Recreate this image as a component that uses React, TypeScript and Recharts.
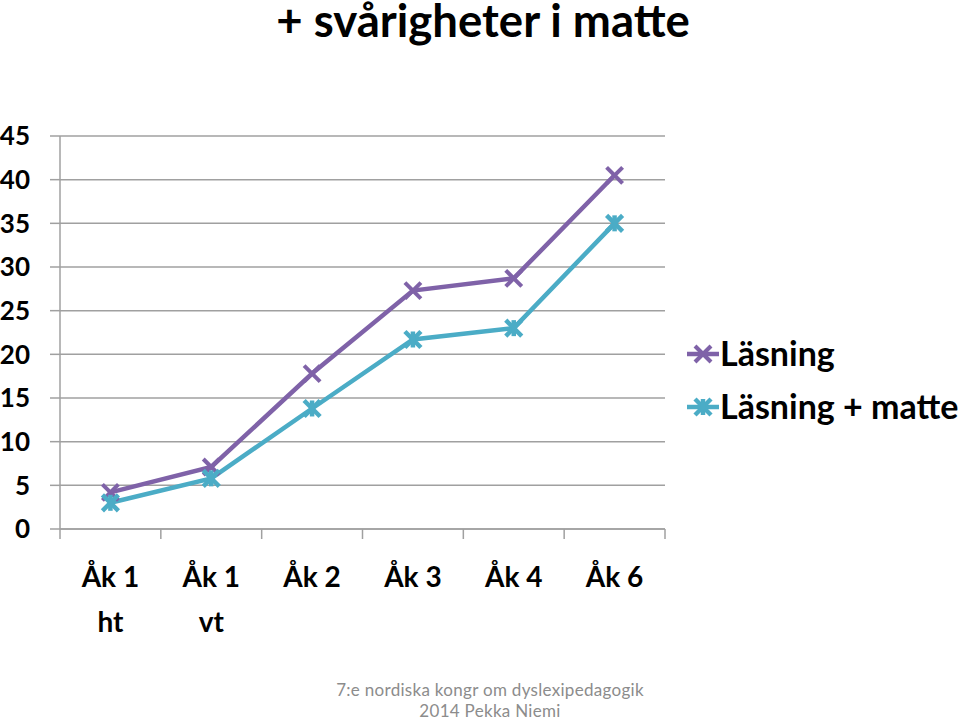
import { LineChart, Line, XAxis, YAxis, CartesianGrid } from "recharts";

const categories = ["Åk 1|ht", "Åk 1|vt", "Åk 2", "Åk 3", "Åk 4", "Åk 6"];
const lasning = [4.2, 7.1, 17.8, 27.3, 28.7, 40.5];
const lasningMatte = [3.0, 5.8, 13.8, 21.7, 23.0, 35.0];
const yTicks = [0, 5, 10, 15, 20, 25, 30, 35, 40, 45];

const seriesNames = ["Läsning", "Läsning + matte"];
const PURPLE = "#7F62A8";
const TEAL = "#4BACC6";

const data = categories.map((c, i) => ({
  cat: c,
  a: lasning[i],
  b: lasningMatte[i],
}));

const W = 960;
const H = 721;
const M = { top: 136, right: 295, bottom: 0, left: 0 };
const Y_W = 60;
const X_H = 192;
const BAND = (W - M.right - Y_W) / categories.length;
const GRID = "#A0A0A0";

const font = "Lato, 'Open Sans', sans-serif";

function XMarker({ cx, cy, color }: any) {
  if (cx == null || cy == null) return null;
  const s = 8;
  return (
    <g stroke={color} strokeWidth={4}>
      <line x1={cx - s} y1={cy - s} x2={cx + s} y2={cy + s} />
      <line x1={cx - s} y1={cy + s} x2={cx + s} y2={cy - s} />
    </g>
  );
}

function StarMarker({ cx, cy, color }: any) {
  if (cx == null || cy == null) return null;
  const s = 8;
  return (
    <g stroke={color} strokeWidth={4.5}>
      <line x1={cx - s} y1={cy - s} x2={cx + s} y2={cy + s} />
      <line x1={cx - s} y1={cy + s} x2={cx + s} y2={cy - s} />
      <line x1={cx} y1={cy - s} x2={cx} y2={cy + s} />
    </g>
  );
}

function CatTick(props: any) {
  const { x, y, payload, index } = props;
  const lines = String(payload.value).split("|");
  return (
    <g>
      <line x1={x - BAND / 2} y1={y} x2={x - BAND / 2} y2={y + 10} stroke={GRID} strokeWidth={1.5} />
      {index === categories.length - 1 && (
        <line x1={x + BAND / 2} y1={y} x2={x + BAND / 2} y2={y + 10} stroke={GRID} strokeWidth={1.5} />
      )}
      {lines.map((t, i) => (
        <text
          key={i}
          x={x}
          y={y + 58 + i * 45}
          textAnchor="middle"
          fontFamily={font}
          fontWeight="bold"
          fontSize={28}
          fill="#000"
        >
          {t}
        </text>
      ))}
    </g>
  );
}

// title, legend and footer drawn on top of the chart
function Overlay() {
  const rows = [
    { name: seriesNames[0], color: PURPLE, Marker: XMarker },
    { name: seriesNames[1], color: TEAL, Marker: StarMarker },
  ];
  return (
    <svg
      width={W}
      height={H}
      style={{ position: "absolute", left: 0, top: 0, pointerEvents: "none" }}
    >
      <text
        x={483}
        y={37}
        textAnchor="middle"
        fontFamily={font}
        fontWeight="bold"
        fontSize={45.5}
        fill="#000"
      >
        + svårigheter i matte
      </text>
      {rows.map((r, i) => {
        const cy = 354 + i * 53;
        return (
          <g key={r.name}>
            <line x1={687} y1={cy} x2={719} y2={cy} stroke={r.color} strokeWidth={4.5} />
            <r.Marker cx={703} cy={cy} color={r.color} />
            <text
              x={720}
              y={cy + 12}
              fontFamily={font}
              fontWeight="bold"
              fontSize={34}
              fill="#000"
            >
              {r.name}
            </text>
          </g>
        );
      })}
      <text x={490} y={696} textAnchor="middle" fontFamily={font} fontSize={17} letterSpacing={0.3} fill="#8C8C8C">
        7:e nordiska kongr om dyslexipedagogik
      </text>
      <text x={490} y={717} textAnchor="middle" fontFamily={font} fontSize={17} letterSpacing={0.3} fill="#8C8C8C">
        2014 Pekka Niemi
      </text>
    </svg>
  );
}

export default function App() {
  return (
    <div
      style={{
        position: "fixed",
        left: 0,
        top: 0,
        width: W,
        height: H,
        background: "#fff",
      }}
    >
      <LineChart width={W} height={H} data={data} margin={M}>
        <CartesianGrid vertical={false} stroke={GRID} strokeWidth={1.5} />
        <XAxis
          dataKey="cat"
          height={X_H}
          interval={0}
          padding={{ left: BAND / 2, right: BAND / 2 }}
          axisLine={{ stroke: GRID, strokeWidth: 1.5 }}
          tickLine={false}
          tickSize={0}
          tickMargin={0}
          tick={<CatTick />}
        />
        <YAxis
          width={Y_W}
          domain={[0, 45]}
          ticks={yTicks}
          interval={0}
          axisLine={{ stroke: GRID, strokeWidth: 1.5 }}
          tickLine={{ stroke: GRID, strokeWidth: 1.5 }}
          tickSize={10}
          tickMargin={20}
          tick={{ fontFamily: font, fontWeight: "bold", fontSize: 26, fill: "#000" }}
        />
        <Line
          dataKey="a"
          name={seriesNames[0]}
          stroke={PURPLE}
          strokeWidth={4.5}
          dot={(p: any) => <XMarker key={p.index} cx={p.cx} cy={p.cy} color={PURPLE} />}
          activeDot={false}
          isAnimationActive={false}
        />
        <Line
          dataKey="b"
          name={seriesNames[1]}
          stroke={TEAL}
          strokeWidth={4.5}
          dot={(p: any) => <StarMarker key={p.index} cx={p.cx} cy={p.cy} color={TEAL} />}
          activeDot={false}
          isAnimationActive={false}
        />
      </LineChart>
      <Overlay />
    </div>
  );
}
